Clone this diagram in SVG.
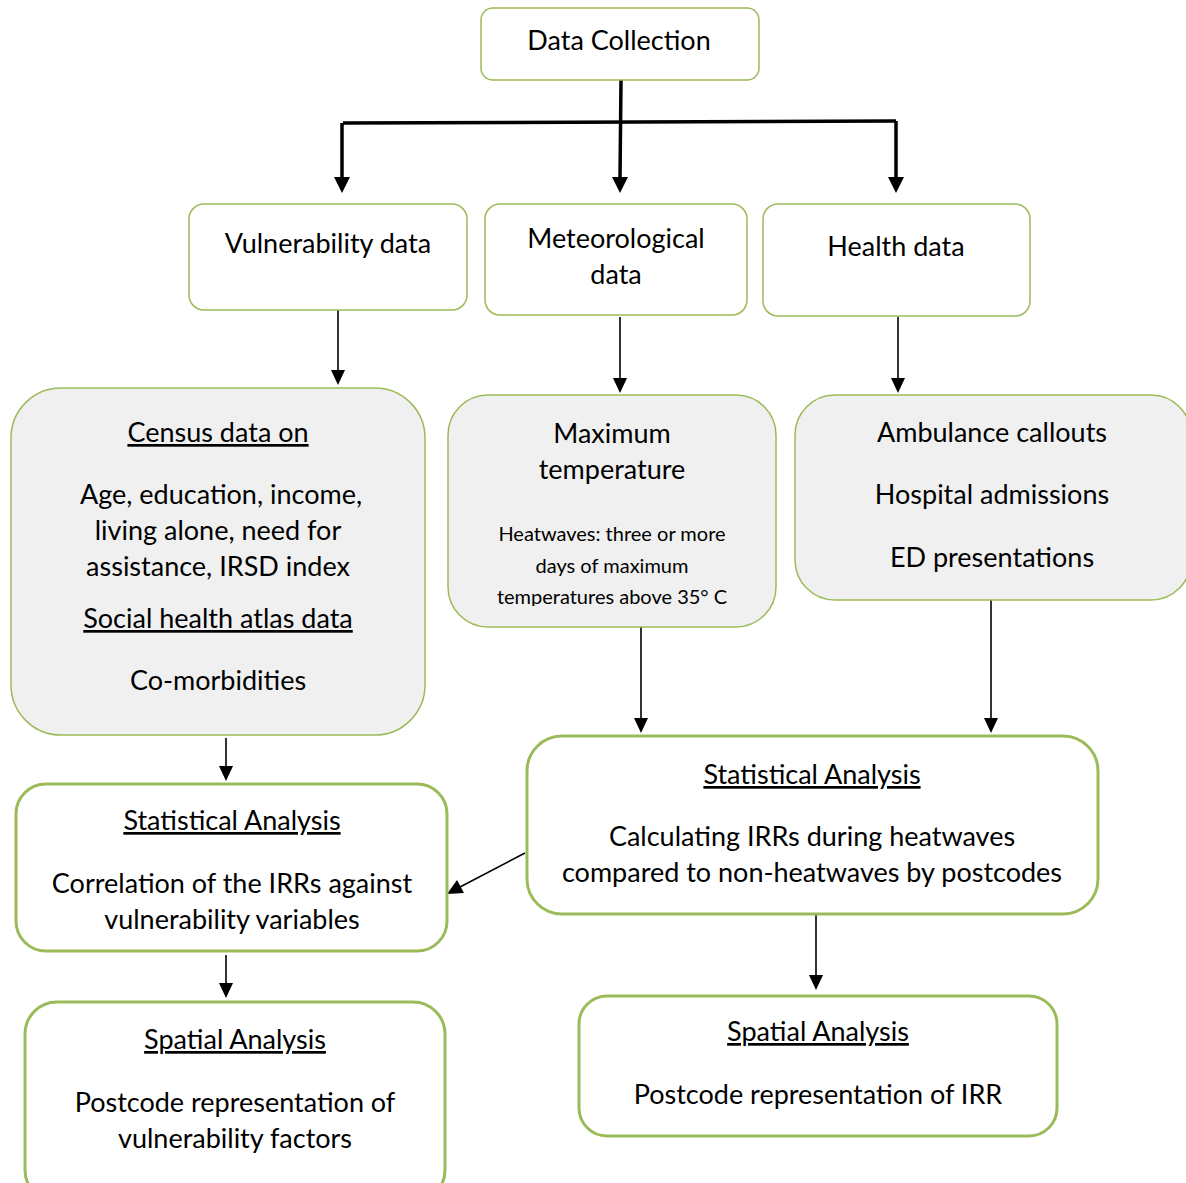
<svg xmlns="http://www.w3.org/2000/svg" width="1186" height="1183" viewBox="0 0 1186 1183">
<style>
  .box { fill: #ffffff; stroke: #9BBB59; stroke-width: 1.5; }
  .grey { fill: #F0F0F0; stroke: #9BBB59; stroke-width: 1.5; }
  .thick { fill: #ffffff; stroke: #9BBB59; stroke-width: 3; }
  text { font-family: Lato, "Open Sans", "Liberation Sans", sans-serif; font-size: 27px; fill: #000; text-anchor: middle; }
  .small { font-size: 20px; }
  .u { text-decoration: underline; }
  .c { stroke: #000; stroke-width: 1.6; fill: none; }
  .ct { stroke: #000; stroke-width: 3.5; fill: none; }
</style>
<defs>
  <clipPath id="clipMax"><rect x="448" y="395" width="330" height="211"/></clipPath>
</defs>

<g id="connectors">
  <path class="ct" d="M621,80 L620,178"/>
  <path class="ct" d="M343,123 L896,121"/>
  <path class="ct" d="M342,123 L342,178"/>
  <path class="ct" d="M896,121 L896,178"/>
  <path d="M334,177 L350,177 L342,193 Z" fill="#000"/>
  <path d="M612,177 L628,177 L620,193 Z" fill="#000"/>
  <path d="M888,177 L904,177 L896,193 Z" fill="#000"/>
  <path class="c" d="M338,310 L338,372"/>
  <path d="M331,370 L345,370 L338,385 Z" fill="#000"/>
  <path class="c" d="M620,317 L620,380"/>
  <path d="M613,378 L627,378 L620,393 Z" fill="#000"/>
  <path class="c" d="M898,317 L898,380"/>
  <path d="M891,378 L905,378 L898,393 Z" fill="#000"/>
  <path class="c" d="M226,738 L226,768"/>
  <path d="M219,766 L233,766 L226,781 Z" fill="#000"/>
  <path class="c" d="M641,627 L641,720"/>
  <path d="M634,718 L648,718 L641,733 Z" fill="#000"/>
  <path class="c" d="M991,600 L991,720"/>
  <path d="M984,718 L998,718 L991,733 Z" fill="#000"/>
  <path class="c" d="M525,853 L460,887"/>
  <path d="M447,894 L457,880 L464,893 Z" fill="#000"/>
  <path class="c" d="M226,955 L226,985"/>
  <path d="M219,983 L233,983 L226,998 Z" fill="#000"/>
  <path class="c" d="M816,915 L816,977"/>
  <path d="M809,975 L823,975 L816,990 Z" fill="#000"/>
</g>

<g id="data-collection">
  <rect class="box" x="481" y="8" width="278" height="72" rx="12"/>
  <text x="619" y="50">Data Collection</text>
</g>

<g id="vulnerability-data">
  <rect class="box" x="189" y="204" width="278" height="106" rx="15"/>
  <text x="328" y="253">Vulnerability data</text>
</g>

<g id="meteorological-data">
  <rect class="box" x="485" y="204" width="262" height="111" rx="15"/>
  <text x="616" y="248">Meteorological</text>
  <text x="616" y="284">data</text>
</g>

<g id="health-data">
  <rect class="box" x="763" y="204" width="267" height="112" rx="15"/>
  <text x="896" y="256">Health data</text>
</g>

<g id="census">
  <rect class="grey" x="11" y="388" width="414" height="347" rx="50"/>
  <text class="u" x="218" y="442">Census data on</text>
  <text x="221" y="504">Age, education, income,</text>
  <text x="218" y="540">living alone, need for</text>
  <text x="218" y="576">assistance, IRSD index</text>
  <text class="u" x="218" y="628">Social health atlas data</text>
  <text x="218" y="690">Co-morbidities</text>
</g>

<g id="maximum-temperature">
  <rect class="grey" x="448" y="395" width="328" height="232" rx="40"/>
  <text x="612" y="443">Maximum</text>
  <text x="612" y="479">temperature</text>
  <g clip-path="url(#clipMax)">
    <text class="small" x="612" y="541">Heatwaves: three or more</text>
    <text class="small" x="612" y="573">days of maximum</text>
    <text class="small" x="612" y="604">temperatures above 35° C</text>
  </g>
</g>

<g id="health-outcomes">
  <rect class="grey" x="795" y="395" width="396" height="205" rx="40"/>
  <text x="992" y="442">Ambulance callouts</text>
  <text x="992" y="504">Hospital admissions</text>
  <text x="992" y="567">ED presentations</text>
</g>

<g id="statistical-analysis-vulnerability">
  <rect class="thick" x="16" y="784" width="431" height="167" rx="30"/>
  <text class="u" x="232" y="830">Statistical Analysis</text>
  <text x="232" y="893">Correlation of the IRRs against</text>
  <text x="232" y="929">vulnerability variables</text>
</g>

<g id="statistical-analysis-irr">
  <rect class="thick" x="527" y="736" width="571" height="178" rx="35"/>
  <text class="u" x="812" y="784">Statistical Analysis</text>
  <text x="812" y="846">Calculating IRRs during heatwaves</text>
  <text x="812" y="882">compared to non-heatwaves by postcodes</text>
</g>

<g id="spatial-analysis-vulnerability">
  <rect class="thick" x="25" y="1002" width="420" height="200" rx="32"/>
  <text class="u" x="235" y="1049">Spatial Analysis</text>
  <text x="235" y="1112">Postcode representation of</text>
  <text x="235" y="1148">vulnerability factors</text>
</g>

<g id="spatial-analysis-irr">
  <rect class="thick" x="579" y="996" width="478" height="140" rx="28"/>
  <text class="u" x="818" y="1041">Spatial Analysis</text>
  <text x="818" y="1104">Postcode representation of IRR</text>
</g>
</svg>
